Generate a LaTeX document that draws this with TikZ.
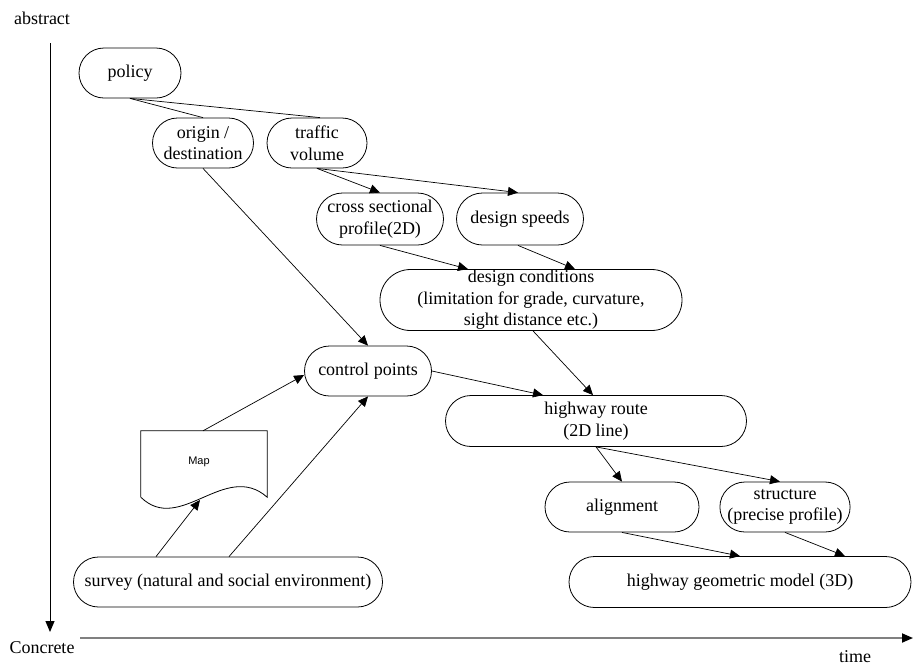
\documentclass[tikz,border=0pt]{standalone}
\usepackage{fontspec}
\setmainfont{Liberation Serif}
\newfontfamily\mapfont{Liberation Sans}
\usetikzlibrary{shapes.misc,arrows.meta,calc}
\begin{document}
\begin{tikzpicture}[x=1pt,y=-1pt,
  stage/.style={draw,rounded rectangle,line width=0.8pt,inner sep=0pt,align=center,
    font=\fontsize{18}{21.5}\selectfont},
  flow/.style={-{Triangle[length=10pt,width=9pt]},line width=0.7pt},
  link/.style={line width=0.7pt},
  lbl/.style={font=\fontsize{18}{21.5}\selectfont,inner sep=0pt}]
\useasboundingbox (0,0) rectangle (913,665);

% axes
\coordinate (vtop) at (50,43);
\coordinate (vbot) at (50,632);
\coordinate (hl) at (80,638);
\coordinate (hr) at (913,638);
\draw[line width=1pt,-{Triangle[length=11pt,width=9pt]}] (vtop) -- (vbot);
\draw[gray,line width=1.8pt,-{Triangle[length=11pt,width=9pt,black]}] (hl) -- (hr);
\node[lbl] (abs) at (42,18) {abstract};
\node[lbl] (conc) at (42,648) {Concrete};
\node[lbl] (time) at (855,657) {time};

% process stages
\node[stage,minimum width=102pt,minimum height=50pt] (policy) at (130,73) {policy};
\node[stage,minimum width=101pt,minimum height=50pt] (origin) at (203,143) {origin /\\destination};
\node[stage,minimum width=100pt,minimum height=50pt] (traffic) at (317,143) {traffic\\volume};
\node[stage,minimum width=127pt,minimum height=52pt] (cross) at (380,219) {cross sectional\\profile(2D)};
\node[stage,minimum width=127pt,minimum height=52pt] (speeds) at (520,219) {design speeds};
\node[stage,minimum width=302pt,minimum height=61pt] (cond) at (531,300)
  {design conditions\\(limitation for grade, curvature,\\sight distance etc.)};
\node[stage,minimum width=127pt,minimum height=50pt] (control) at (368,371) {control points};
\node[stage,minimum width=301pt,minimum height=51pt] (route) at (596,421) {highway route\\(2D line)};
\node[stage,minimum width=154pt,minimum height=50pt] (align) at (622,507) {alignment};
\node[stage,minimum width=126pt,minimum height=50pt] (struct) at (785,507) {structure\\(precise profile)};
\node[stage,minimum width=342pt,minimum height=51pt] (model) at (740,582) {highway geometric model (3D)};
\node[stage,minimum width=309pt,minimum height=50pt] (survey) at (228,582) {survey (natural and social environment)};

% map document
\node[minimum width=126pt,minimum height=66pt,inner sep=0pt,font=\mapfont\fontsize{11}{13}\selectfont]
  (map) at (204,464) {\hspace*{-10pt}\raisebox{6pt}{Map}};
\draw[line width=0.8pt] (map.south west) -- (map.north west) -- (map.north east) -- (map.south east)
  .. controls ($(map.south east)+(-42,-37)$) and ($(map.south west)+(39,38)$) .. (map.south west);
\coordinate (mapbot) at (200,500);

% connectors
\draw[link] (policy.south) -- (origin.north);
\draw[link] (policy.south) -- ([xshift=3pt]traffic.north);
\draw[flow] (origin.south) -- (control.north);
\draw[flow] (traffic.south) -- (cross.north);
\draw[flow] (traffic.south) -- ([xshift=-2pt]speeds.north);
\draw[flow] (cross.south) -- ([xshift=-63pt]cond.north);
\draw[flow] ([xshift=-2pt]speeds.south) -- ([xshift=44pt]cond.north);
\draw[flow] ([xshift=2pt]cond.south) -- ([xshift=-3pt]route.north);
\draw[flow] (control.east) -- ([xshift=-53pt]route.north);
\draw[flow] ([xshift=-1pt]map.north) -- ([yshift=-4pt]control.west);
\draw[flow] ([xshift=-72pt]survey.north) -- (mapbot);
\draw[flow] ([xshift=1pt]survey.north) -- (control.south);
\draw[flow] (route.south) -- (align.north);
\draw[flow] (route.south) -- ([xshift=-5pt]struct.north);
\draw[flow] (align.south) -- (model.north);
\draw[flow] (struct.south) -- ([xshift=105pt]model.north);
\end{tikzpicture}
\end{document}
